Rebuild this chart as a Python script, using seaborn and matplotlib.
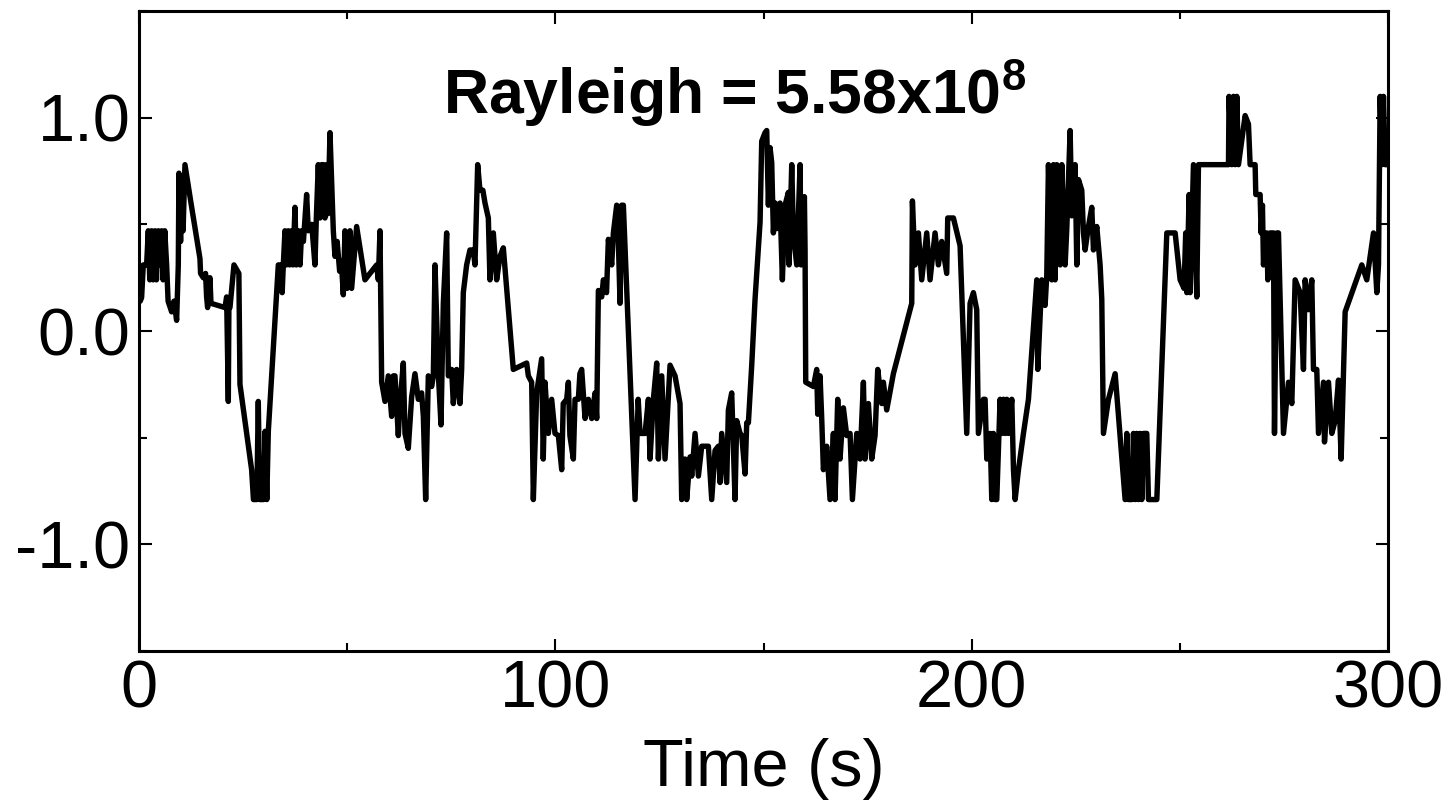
import matplotlib
matplotlib.use("Agg")
import matplotlib.pyplot as plt
import seaborn as sns
import pandas as pd
from matplotlib.ticker import MultipleLocator

time_s = [
    0.3, 0.64, 1.04, 1.84, 2.24, 2.6, 3.04, 3.4, 3.84, 4.2, 4.64, 5.0, 5.44, 5.8, 6.2, 6.65, 7.0, 7.85, 8.4, 9.05,
    9.45, 9.6, 10.0, 10.25, 10.6, 11.05, 12.5, 14.65, 14.8, 15.45, 16.0, 16.25, 16.49, 17.05, 17.3, 20.66, 21.06, 21.46, 21.6, 21.86,
    22.82, 24.0, 24.26, 27.06, 27.5, 28.3, 28.66, 29.0, 29.9, 30.3, 30.7, 31.07, 33.47, 34.27, 34.4, 34.67, 35.07, 35.4, 35.87, 36.2,
    36.67, 37.0, 37.47, 37.8, 38.27, 38.7, 39.07, 39.5, 40.27, 40.67, 41.5, 42.27, 42.6, 43.07, 43.48, 43.88, 44.3, 44.68, 45.08, 45.4,
    45.88, 46.68, 47.08, 47.6, 48.2, 48.6, 49.08, 49.48, 50.0, 50.68, 51.08, 52.28, 54.28, 57.09, 57.49, 57.89, 58.29, 59.09, 59.89, 60.69,
    61.1, 61.49, 62.29, 62.69, 63.49, 63.89, 64.69, 65.49, 66.29, 67.09, 67.89, 68.3, 68.86, 69.5, 70.3, 70.7, 71.1, 71.9, 72.54, 73.1,
    73.9, 74.3, 75.1, 75.5, 76.3, 77.1, 77.5, 77.9, 78.7, 79.5, 80.3, 80.7, 81.35, 81.9, 82.6, 83.11, 83.91, 84.3, 85.11, 85.91,
    86.71, 87.51, 89.91, 93.12, 93.52, 94.32, 94.72, 95.52, 96.72, 97.1, 97.52, 98.32, 99.12, 99.92, 100.73, 101.53, 101.9, 102.73, 103.13, 103.5,
    104.33, 104.73, 105.53, 105.9, 106.33, 107.14, 107.94, 108.74, 109.54, 109.94, 110.34, 111.14, 111.54, 112.3, 112.74, 113.54, 113.94, 114.74, 115.1, 115.54,
    115.94, 116.34, 119.15, 119.9, 120.35, 121.55, 122.35, 122.75, 123.55, 124.35, 124.75, 125.55, 126.35, 127.55, 128.75, 129.95, 130.35, 131.15, 131.55, 132.36,
    132.76, 133.56, 134.36, 135.16, 136.76, 137.56, 138.36, 139.16, 139.56, 139.96, 141.16, 141.56, 142.36, 143.16, 143.56, 144.37, 144.77, 145.57, 145.97, 146.37,
    147.17, 147.97, 148.37, 149.17, 149.57, 150.37, 150.77, 151.17, 151.57, 151.97, 152.37, 152.8, 153.17, 153.97, 154.53, 155.17, 155.97, 156.13, 156.78, 157.18,
    157.98, 158.78, 159.02, 159.82, 159.98, 160.14, 161.98, 162.78, 163.02, 163.58, 163.98, 164.38, 165.18, 165.98, 166.78, 167.18, 167.82, 168.38, 169.18, 169.99,
    170.79, 171.35, 172.39, 173.19, 173.99, 174.39, 175.19, 175.99, 176.79, 177.43, 178.39, 178.79, 179.59, 181.19, 185.6, 185.76, 186.4, 187.2, 188.0, 189.2,
    190.0, 191.2, 192.0, 192.8, 194.0, 194.24, 195.61, 197.21, 198.81, 199.61, 200.41, 201.21, 201.61, 202.81, 203.22, 203.62, 204.42, 204.82, 205.22, 205.62,
    206.02, 206.82, 207.22, 207.63, 208.03, 208.43, 208.83, 209.63, 210.03, 210.43, 211.23, 212.43, 213.63, 215.63, 215.87, 216.83, 217.63, 218.03, 218.43, 219.23,
    219.63, 220.03, 220.44, 221.24, 221.64, 222.44, 222.84, 223.64, 224.04, 224.84, 225.24, 225.64, 226.44, 226.84, 227.24, 228.04, 228.84, 229.24, 230.04, 230.84,
    231.24, 231.64, 232.85, 234.45, 236.85, 237.25, 237.65, 238.45, 238.85, 239.25, 239.65, 240.05, 240.45, 240.85, 241.25, 242.05, 242.45, 244.46, 246.86, 248.86,
    250.06, 251.0, 251.4, 251.66, 252.22, 252.46, 253.26, 254.06, 254.46, 261.67, 261.8, 262.47, 262.87, 263.27, 263.67, 264.07, 265.67, 266.47, 266.87, 268.07,
    268.23, 269.27, 269.51, 269.83, 270.07, 270.88, 271.12, 271.68, 272.48, 272.72, 273.28, 273.68, 274.88, 276.08, 276.88, 277.68, 278.88, 279.68, 280.08, 280.88,
    281.68, 282.08, 282.88, 283.29, 284.49, 284.73, 285.69, 286.49, 287.29, 288.09, 288.73, 289.69, 293.69, 294.89, 296.5, 297.3, 297.7, 298.1, 298.5, 298.9,
    299.3, 299.7,
]

signal = [
    0.14, 0.157, 0.31, 0.31, 0.47, 0.24, 0.47, 0.24, 0.47, 0.24, 0.47, 0.31, 0.47, 0.24, 0.47, 0.31, 0.14, 0.09, 0.14, 0.05,
    0.31, 0.74, 0.42, 0.7, 0.47, 0.78, 0.6, 0.34, 0.27, 0.25, 0.27, 0.16, 0.11, 0.25, 0.13, 0.11, 0.16, -0.33, 0.11, 0.11,
    0.31, 0.27, -0.25, -0.65, -0.79, -0.79, -0.33, -0.79, -0.79, -0.47, -0.79, -0.47, 0.31, 0.31, 0.18, 0.31, 0.47, 0.31, 0.47, 0.31,
    0.47, 0.31, 0.58, 0.31, 0.47, 0.31, 0.47, 0.42, 0.64, 0.47, 0.5, 0.31, 0.53, 0.78, 0.53, 0.78, 0.78, 0.53, 0.78, 0.55,
    0.93, 0.47, 0.35, 0.42, 0.28, 0.33, 0.17, 0.47, 0.2, 0.47, 0.2, 0.49, 0.24, 0.31, 0.24, 0.47, -0.24, -0.33, -0.21, -0.40,
    -0.21, -0.21, -0.49, -0.34, -0.15, -0.48, -0.55, -0.31, -0.2, -0.32, -0.29, -0.40, -0.79, -0.21, -0.26, -0.21, 0.31, -0.2, -0.44, 0.13,
    0.46, -0.21, -0.18, -0.34, -0.18, -0.34, -0.18, 0.18, 0.31, 0.38, 0.38, 0.31, 0.78, 0.66, 0.66, 0.6, 0.53, 0.24, 0.46, 0.24,
    0.35, 0.39, -0.18, -0.15, -0.21, -0.24, -0.79, -0.29, -0.13, -0.6, -0.24, -0.48, -0.32, -0.48, -0.49, -0.65, -0.34, -0.32, -0.24, -0.49,
    -0.60, -0.32, -0.32, -0.2, -0.18, -0.41, -0.32, -0.41, -0.29, -0.41, 0.19, 0.16, 0.24, 0.18, 0.43, 0.31, 0.46, 0.59, 0.45, 0.13,
    0.59, 0.59, -0.79, -0.32, -0.48, -0.48, -0.32, -0.60, -0.32, -0.15, -0.60, -0.21, -0.60, -0.16, -0.21, -0.34, -0.79, -0.60, -0.79, -0.59,
    -0.68, -0.48, -0.68, -0.54, -0.54, -0.79, -0.56, -0.54, -0.71, -0.48, -0.71, -0.37, -0.29, -0.79, -0.42, -0.48, -0.49, -0.67, -0.43, -0.43,
    -0.16, 0.15, 0.27, 0.51, 0.89, 0.93, 0.94, 0.59, 0.86, 0.79, 0.46, 0.6, 0.48, 0.6, 0.24, 0.59, 0.65, 0.31, 0.78, 0.45,
    0.31, 0.78, 0.31, 0.63, 0.38, -0.24, -0.26, -0.18, -0.39, -0.21, -0.41, -0.65, -0.54, -0.79, -0.48, -0.79, -0.32, -0.60, -0.36, -0.49,
    -0.48, -0.79, -0.48, -0.60, -0.24, -0.60, -0.34, -0.60, -0.49, -0.18, -0.34, -0.24, -0.37, -0.2, 0.13, 0.61, 0.31, 0.46, 0.24, 0.46,
    0.24, 0.46, 0.31, 0.42, 0.27, 0.53, 0.53, 0.4, -0.48, 0.13, 0.18, 0.1, -0.48, -0.32, -0.32, -0.60, -0.48, -0.79, -0.48, -0.79,
    -0.79, -0.32, -0.48, -0.32, -0.48, -0.32, -0.48, -0.32, -0.65, -0.79, -0.65, -0.48, -0.32, 0.24, -0.18, 0.24, 0.12, 0.26, 0.78, 0.24,
    0.78, 0.24, 0.78, 0.31, 0.78, 0.31, 0.48, 0.94, 0.54, 0.78, 0.31, 0.71, 0.66, 0.46, 0.38, 0.49, 0.58, 0.38, 0.49, 0.31,
    0.15, -0.48, -0.32, -0.2, -0.79, -0.48, -0.79, -0.79, -0.48, -0.79, -0.48, -0.79, -0.48, -0.79, -0.48, -0.48, -0.79, -0.79, 0.46, 0.46,
    0.24, 0.2, 0.46, 0.18, 0.64, 0.18, 0.78, 0.16, 0.78, 0.78, 1.1, 0.78, 1.1, 0.78, 1.1, 0.78, 1.01, 0.97, 0.78, 0.78,
    0.64, 0.64, 0.46, 0.59, 0.31, 0.46, 0.24, 0.46, 0.46, -0.48, 0.46, 0.46, -0.48, -0.24, -0.34, 0.24, 0.18, -0.18, 0.24, 0.1,
    0.24, -0.18, -0.18, -0.48, -0.24, -0.52, -0.24, -0.48, -0.42, -0.23, -0.6, 0.09, 0.31, 0.24, 0.46, 0.18, 0.31, 1.1, 0.78, 1.1,
    0.78, 0.78,
]

x_ticks = [0, 100, 200, 300]
x_tick_labels = ["0", "100", "200", "300"]
y_ticks = [-1.0, 0.0, 1.0]
y_tick_labels = ["-1.0", "0.0", "1.0"]
title_text = r"Rayleigh = 5.58x10$^{\mathbf{8}}$"
x_label = "Time (s)"

sns.set_style("ticks")
plt.rcParams["font.family"] = ["Liberation Sans", "DejaVu Sans"]
plt.rcParams["mathtext.fontset"] = "custom"
plt.rcParams["mathtext.bf"] = "Liberation Sans:bold"
plt.rcParams["mathtext.rm"] = "Liberation Sans"
plt.rcParams["text.color"] = "black"
plt.rcParams["axes.labelcolor"] = "black"
plt.rcParams["xtick.color"] = "black"
plt.rcParams["ytick.color"] = "black"

df = pd.DataFrame({"t": time_s, "v": signal})

fig = plt.figure(figsize=(14.55, 8.08), dpi=100)
ax = fig.add_axes([0.0955, 0.1943, 0.8585, 0.792])
sns.lineplot(data=df, x="t", y="v", sort=False, estimator=None, color="black",
             linewidth=3.9, ax=ax)

ax.set_xlim(0, 300)
ax.set_ylim(-1.5, 1.5)
ax.set_xticks(x_ticks)
ax.set_xticklabels(x_tick_labels)
ax.set_yticks(y_ticks)
ax.set_yticklabels(y_tick_labels)
ax.xaxis.set_minor_locator(MultipleLocator(50))
ax.yaxis.set_minor_locator(MultipleLocator(0.5))
ax.tick_params(which="both", direction="in", top=True, right=True, width=1.5,
               labelsize=48, pad=6, color="black", labelcolor="black")
ax.tick_params(which="major", length=9)
ax.tick_params(which="minor", length=6)
for s in ax.spines.values():
    s.set_linewidth(2.2)
    s.set_color("black")
ax.set_xlabel(x_label, fontsize=48, labelpad=12, color="black")
ax.set_ylabel("")
ax.text(143, 1.017, title_text, ha="center", va="baseline", fontsize=45,
        fontweight="bold", color="black")

fig.savefig("out.png", dpi=100)
